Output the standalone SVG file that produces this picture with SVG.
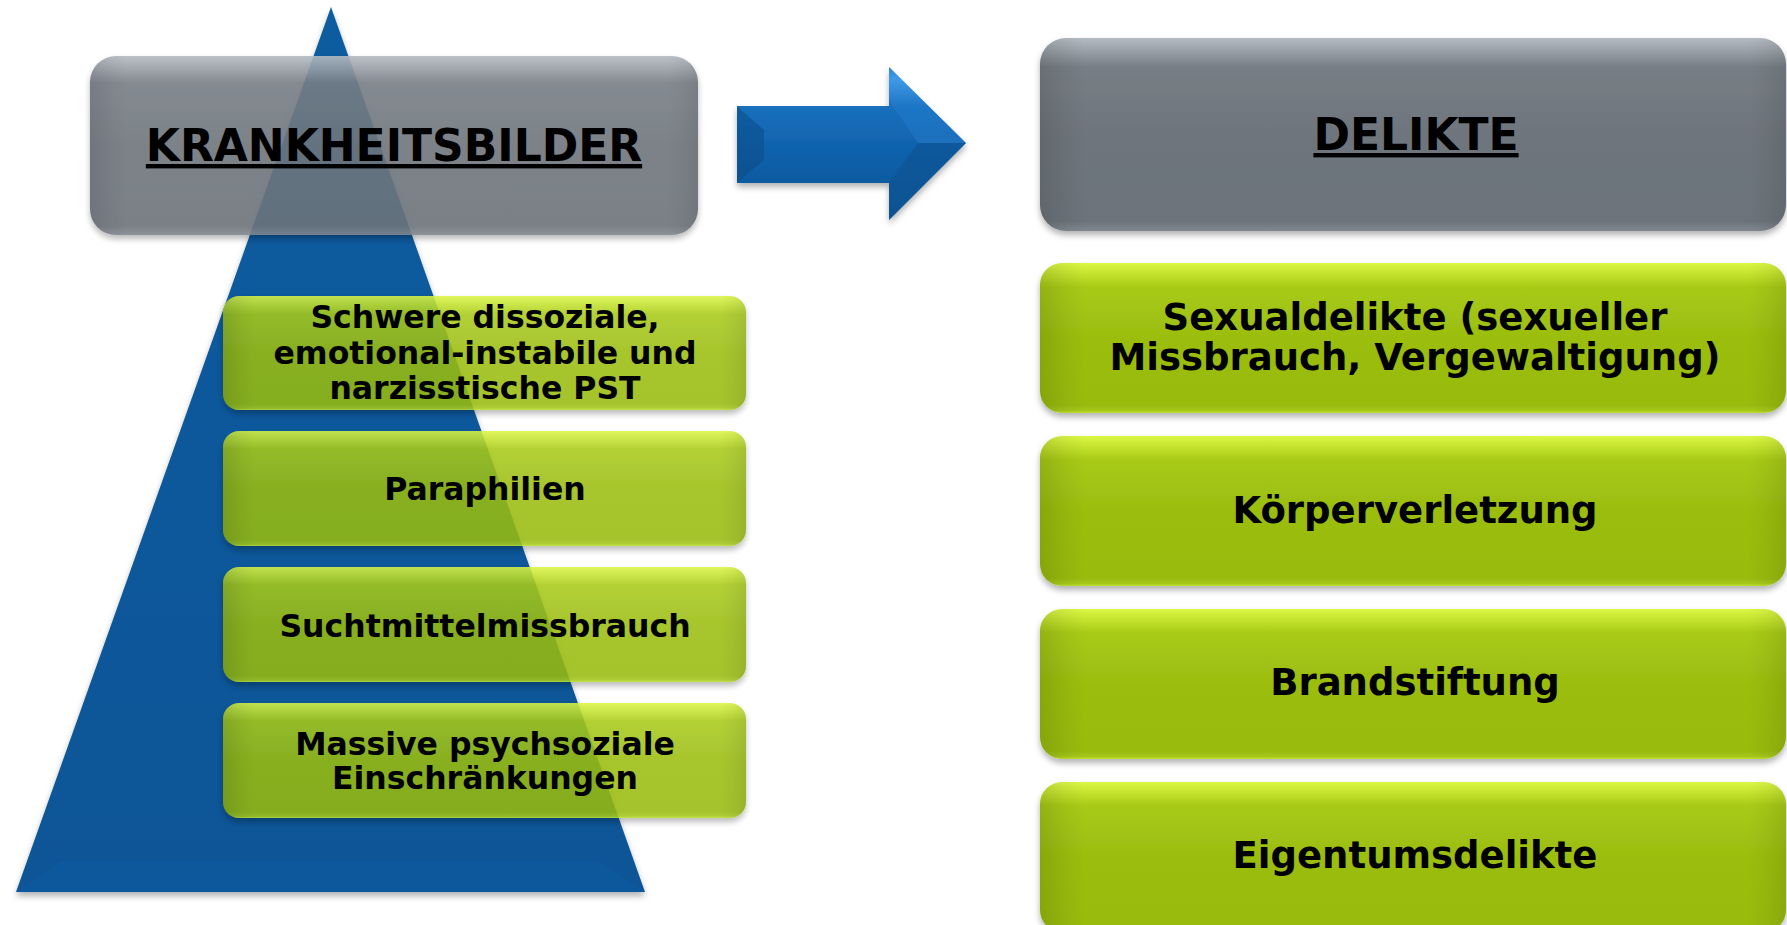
<svg xmlns="http://www.w3.org/2000/svg" width="1787" height="925" viewBox="0 0 1787 925">
<style>
text{font-family:"DejaVu Sans",Verdana,"Liberation Sans",sans-serif;font-weight:bold;fill:#000;text-anchor:middle}
.hdr{font-size:44px;text-decoration:underline}
.lt{font-size:31.5px}
.rt{font-size:37px}
.green{fill:url(#gGreen)}
.gray{fill:url(#gGray)}
.side{fill:url(#gSide)}
.tr{opacity:0.87}
</style>
<defs>
<linearGradient id="gGreen" x1="0" y1="0" x2="0" y2="1">
<stop offset="0" stop-color="#dcf745"/>
<stop offset="0.05" stop-color="#cbe934"/>
<stop offset="0.16" stop-color="#a8ca17"/>
<stop offset="0.5" stop-color="#9bbd10"/>
<stop offset="0.95" stop-color="#98bb10"/>
<stop offset="0.985" stop-color="#a6c91a"/>
<stop offset="1" stop-color="#c2e434"/>
</linearGradient>
<linearGradient id="gGray" x1="0" y1="0" x2="0" y2="1">
<stop offset="0" stop-color="#b4bbc2"/>
<stop offset="0.05" stop-color="#a0a7ae"/>
<stop offset="0.15" stop-color="#777e85"/>
<stop offset="0.5" stop-color="#6e757c"/>
<stop offset="0.95" stop-color="#6c737a"/>
<stop offset="1" stop-color="#80878e"/>
</linearGradient>
<linearGradient id="gSide" x1="0" y1="0" x2="1" y2="0">
<stop offset="0" stop-color="#000" stop-opacity="0.12"/>
<stop offset="0.035" stop-color="#000" stop-opacity="0.04"/>
<stop offset="0.06" stop-color="#000" stop-opacity="0"/>
<stop offset="0.95" stop-color="#000" stop-opacity="0"/>
<stop offset="0.975" stop-color="#000" stop-opacity="0.04"/>
<stop offset="1" stop-color="#000" stop-opacity="0.1"/>
</linearGradient>
<linearGradient id="gTri" x1="0" y1="0" x2="0" y2="1">
<stop offset="0" stop-color="#0b5ca0"/>
<stop offset="1" stop-color="#0a5596"/>
</linearGradient>
<linearGradient id="gShaft" x1="0" y1="0" x2="0" y2="1">
<stop offset="0" stop-color="#2f86d6"/>
<stop offset="0.08" stop-color="#4aa6f0"/>
<stop offset="0.25" stop-color="#1a70bd"/>
<stop offset="0.6" stop-color="#0d5fa8"/>
<stop offset="1" stop-color="#0a5597"/>
</linearGradient>
<filter id="shadow" x="-5%" y="-10%" width="110%" height="130%">
<feDropShadow dx="0" dy="4" stdDeviation="3" flood-color="#000" flood-opacity="0.3"/>
</filter>
</defs>

<g id="pyramid" filter="url(#shadow)">
<polygon points="331,7 16,892 645,892" fill="url(#gTri)"/>
<polygon points="16,892 60,862 600,862 645,892" fill="#0d63ad" opacity="0.3"/>
</g>

<g id="krankheitsbilder">
<g opacity="0.9">
<rect x="90" y="56" width="608" height="179" rx="26" class="gray" filter="url(#shadow)"/>
<rect x="90" y="56" width="608" height="179" rx="26" class="side"/>
</g>
<text class="hdr" x="394" y="161">KRANKHEITSBILDER</text>
</g>

<g id="connectors">
<g id="arrow" filter="url(#shadow)">
<polygon points="737,106 889,106 889,67 966,143 889,220 889,183 737,183" fill="url(#gShaft)"/>
<polygon points="737,106 764,130 764,160 737,183" fill="#08477f" opacity="0.45"/>
<polygon points="889,67 966,143 918,143 889,100" fill="#2a84d6" opacity="0.35"/>
<polygon points="889,220 966,143 918,143 889,183" fill="#0a4f8c" opacity="0.5"/>
</g>
</g>

<g id="box-pst">
<g class="tr">
<rect x="223" y="296" width="523" height="114" rx="16" class="green" filter="url(#shadow)"/>
<rect x="223" y="296" width="523" height="114" rx="16" class="side"/>
</g>
<text class="lt" x="485"><tspan x="485" y="328">Schwere dissoziale,</tspan><tspan x="485" y="364">emotional-instabile und</tspan><tspan x="485" y="399">narzisstische PST</tspan></text>
</g>
<g id="box-paraphilien">
<g class="tr">
<rect x="223" y="431" width="523" height="115" rx="16" class="green" filter="url(#shadow)"/>
<rect x="223" y="431" width="523" height="115" rx="16" class="side"/>
</g>
<text class="lt" x="485" y="500">Paraphilien</text>
</g>
<g id="box-sucht">
<g class="tr">
<rect x="223" y="567" width="523" height="115" rx="16" class="green" filter="url(#shadow)"/>
<rect x="223" y="567" width="523" height="115" rx="16" class="side"/>
</g>
<text class="lt" x="485" y="637">Suchtmittelmissbrauch</text>
</g>
<g id="box-psychsozial">
<g class="tr">
<rect x="223" y="703" width="523" height="115" rx="16" class="green" filter="url(#shadow)"/>
<rect x="223" y="703" width="523" height="115" rx="16" class="side"/>
</g>
<text class="lt" x="485"><tspan x="485" y="755">Massive psychsoziale</tspan><tspan x="485" y="789">Einschränkungen</tspan></text>
</g>

<g id="delikte">
<rect x="1040" y="38" width="746" height="193" rx="26" class="gray" filter="url(#shadow)"/>
<rect x="1040" y="38" width="746" height="193" rx="26" class="side"/>
<text class="hdr" x="1416" y="150">DELIKTE</text>
</g>
<g id="box-sexualdelikte">
<rect x="1040" y="263" width="746" height="150" rx="22" class="green" filter="url(#shadow)"/>
<rect x="1040" y="263" width="746" height="150" rx="22" class="side"/>
<text class="rt" x="1415"><tspan x="1415" y="330">Sexualdelikte (sexueller</tspan><tspan x="1415" y="370">Missbrauch, Vergewaltigung)</tspan></text>
</g>
<g id="box-koerperverletzung">
<rect x="1040" y="436" width="746" height="150" rx="22" class="green" filter="url(#shadow)"/>
<rect x="1040" y="436" width="746" height="150" rx="22" class="side"/>
<text class="rt" x="1415" y="523">Körperverletzung</text>
</g>
<g id="box-brandstiftung">
<rect x="1040" y="609" width="746" height="150" rx="22" class="green" filter="url(#shadow)"/>
<rect x="1040" y="609" width="746" height="150" rx="22" class="side"/>
<text class="rt" x="1415" y="695">Brandstiftung</text>
</g>
<g id="box-eigentumsdelikte">
<rect x="1040" y="782" width="746" height="150" rx="22" class="green" filter="url(#shadow)"/>
<rect x="1040" y="782" width="746" height="150" rx="22" class="side"/>
<text class="rt" x="1415" y="868">Eigentumsdelikte</text>
</g>
</svg>
